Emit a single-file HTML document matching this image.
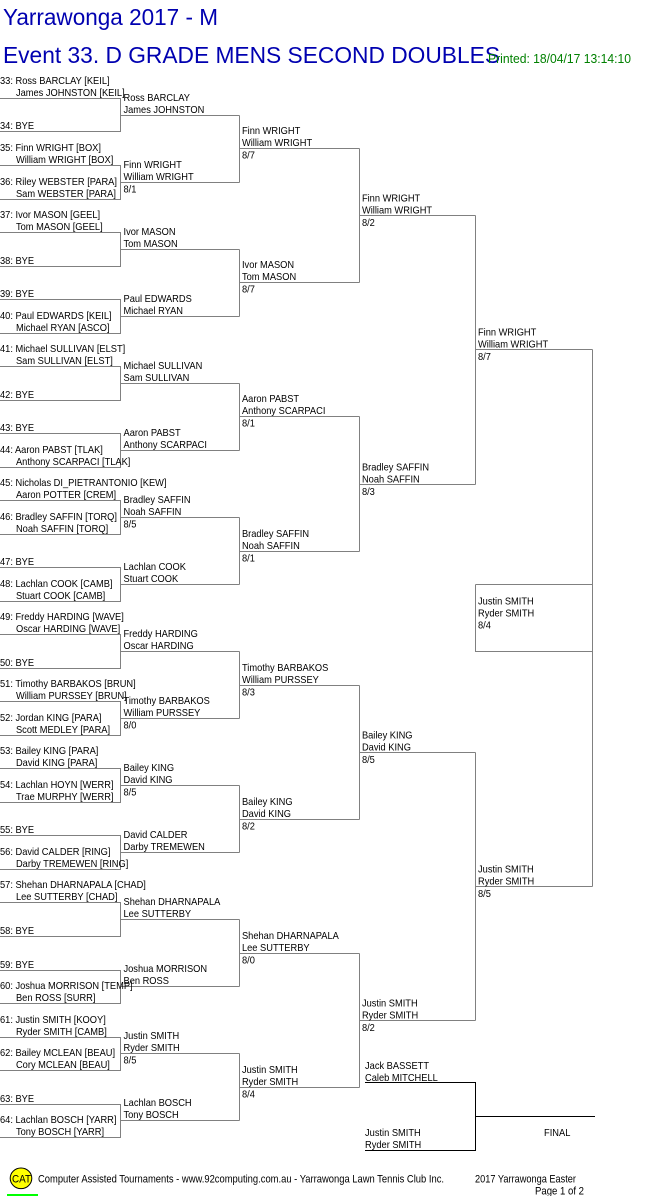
<!DOCTYPE html>
<html><head><meta charset="utf-8"><style>
html,body{margin:0;padding:0;background:#fff;}
svg{display:block;}
text{font-family:"Liberation Sans",Arial,sans-serif;}
</style></head><body>
<svg width="661" height="1196" viewBox="0 0 661 1196" xmlns="http://www.w3.org/2000/svg">
<rect width="661" height="1196" fill="#fff"/>
<text x="3" y="25" font-size="23" fill="#0000b0" textLength="215" lengthAdjust="spacingAndGlyphs">Yarrawonga 2017 - M</text>
<text x="3" y="63" font-size="23" fill="#0000b0" textLength="497" lengthAdjust="spacingAndGlyphs">Event 33. D GRADE MENS SECOND DOUBLES</text>
<text x="488" y="63" font-size="13" fill="#008000" textLength="143" lengthAdjust="spacingAndGlyphs">Printed: 18/04/17 13:14:10</text>

<g fill="none" stroke="#808080" stroke-width="1">
<path d="M0 98.5H120.5V131.5H0 M120.5 115.5H239.5
M0 165.5H120.5V199.5H0 M120.5 182.5H239.5
M0 232.5H120.5V266.5H0 M120.5 249.5H239.5
M0 299.5H120.5V333.5H0 M120.5 316.5H239.5
M0 366.5H120.5V400.5H0 M120.5 383.5H239.5
M0 433.5H120.5V467.5H0 M120.5 450.5H239.5
M0 500.5H120.5V534.5H0 M120.5 517.5H239.5
M0 567.5H120.5V601.5H0 M120.5 584.5H239.5
M0 634.5H120.5V668.5H0 M120.5 651.5H239.5
M0 701.5H120.5V735.5H0 M120.5 718.5H239.5
M0 768.5H120.5V802.5H0 M120.5 785.5H239.5
M0 835.5H120.5V869.5H0 M120.5 852.5H239.5
M0 902.5H120.5V936.5H0 M120.5 919.5H239.5
M0 970.5H120.5V1003.5H0 M120.5 986.5H239.5
M0 1037.5H120.5V1070.5H0 M120.5 1053.5H239.5
M0 1104.5H120.5V1137.5H0 M120.5 1120.5H239.5
M239.5 115.5V182.5 M239.5 148.5H359.5
M239.5 249.5V316.5 M239.5 282.5H359.5
M239.5 383.5V450.5 M239.5 416.5H359.5
M239.5 517.5V584.5 M239.5 551.5H359.5
M239.5 651.5V718.5 M239.5 685.5H359.5
M239.5 785.5V852.5 M239.5 819.5H359.5
M239.5 919.5V986.5 M239.5 953.5H359.5
M239.5 1053.5V1120.5 M239.5 1087.5H359.5
M359.5 148.5V282.5 M359.5 215.5H475.5
M359.5 416.5V551.5 M359.5 484.5H475.5
M359.5 685.5V819.5 M359.5 752.5H475.5
M359.5 953.5V1087.5 M359.5 1020.5H475.5
M475.5 215.5V484.5 M475.5 349.5H592.5
M475.5 752.5V1020.5 M475.5 886.5H592.5
M592.5 349.5V886.5
M475.5 584.5H592.5 M475.5 584.5V651.5H592.5"/>
</g>
<path d="M365 1082.5H475.5V1150.5H365 M475.5 1116.5H595" fill="none" stroke="#000" stroke-width="1"/>

<g transform="scale(0.93,1)" font-size="10" fill="#000">
<text x="0" y="84">33: Ross BARCLAY [KEIL]</text><text x="17.2" y="96">James JOHNSTON [KEIL]</text>
<text x="0" y="129">34: BYE</text>
<text x="0" y="151">35: Finn WRIGHT [BOX]</text><text x="17.2" y="163">William WRIGHT [BOX]</text>
<text x="0" y="185">36: Riley WEBSTER [PARA]</text><text x="17.2" y="197">Sam WEBSTER [PARA]</text>
<text x="0" y="218">37: Ivor MASON [GEEL]</text><text x="17.2" y="230">Tom MASON [GEEL]</text>
<text x="0" y="264">38: BYE</text>
<text x="0" y="297">39: BYE</text>
<text x="0" y="319">40: Paul EDWARDS [KEIL]</text><text x="17.2" y="331">Michael RYAN [ASCO]</text>
<text x="0" y="352">41: Michael SULLIVAN [ELST]</text><text x="17.2" y="364">Sam SULLIVAN [ELST]</text>
<text x="0" y="398">42: BYE</text>
<text x="0" y="431">43: BYE</text>
<text x="0" y="453">44: Aaron PABST [TLAK]</text><text x="17.2" y="465">Anthony SCARPACI [TLAK]</text>
<text x="0" y="486">45: Nicholas DI_PIETRANTONIO [KEW]</text><text x="17.2" y="498">Aaron POTTER [CREM]</text>
<text x="0" y="520">46: Bradley SAFFIN [TORQ]</text><text x="17.2" y="532">Noah SAFFIN [TORQ]</text>
<text x="0" y="565">47: BYE</text>
<text x="0" y="587">48: Lachlan COOK [CAMB]</text><text x="17.2" y="599">Stuart COOK [CAMB]</text>
<text x="0" y="620">49: Freddy HARDING [WAVE]</text><text x="17.2" y="632">Oscar HARDING [WAVE]</text>
<text x="0" y="666">50: BYE</text>
<text x="0" y="687">51: Timothy BARBAKOS [BRUN]</text><text x="17.2" y="699">William PURSSEY [BRUN]</text>
<text x="0" y="721">52: Jordan KING [PARA]</text><text x="17.2" y="733">Scott MEDLEY [PARA]</text>
<text x="0" y="754">53: Bailey KING [PARA]</text><text x="17.2" y="766">David KING [PARA]</text>
<text x="0" y="788">54: Lachlan HOYN [WERR]</text><text x="17.2" y="800">Trae MURPHY [WERR]</text>
<text x="0" y="833">55: BYE</text>
<text x="0" y="855">56: David CALDER [RING]</text><text x="17.2" y="867">Darby TREMEWEN [RING]</text>
<text x="0" y="888">57: Shehan DHARNAPALA [CHAD]</text><text x="17.2" y="900">Lee SUTTERBY [CHAD]</text>
<text x="0" y="934">58: BYE</text>
<text x="0" y="968">59: BYE</text>
<text x="0" y="989">60: Joshua MORRISON [TEMP]</text><text x="17.2" y="1001">Ben ROSS [SURR]</text>
<text x="0" y="1023">61: Justin SMITH [KOOY]</text><text x="17.2" y="1035">Ryder SMITH [CAMB]</text>
<text x="0" y="1056">62: Bailey MCLEAN [BEAU]</text><text x="17.2" y="1068">Cory MCLEAN [BEAU]</text>
<text x="0" y="1102">63: BYE</text>
<text x="0" y="1123">64: Lachlan BOSCH [YARR]</text><text x="17.2" y="1135">Tony BOSCH [YARR]</text>

<text x="132.8" y="101">Ross BARCLAY</text><text x="132.8" y="113">James JOHNSTON</text>
<text x="132.8" y="168">Finn WRIGHT</text><text x="132.8" y="180">William WRIGHT</text><text x="132.8" y="192.5">8/1</text>
<text x="132.8" y="235">Ivor MASON</text><text x="132.8" y="247">Tom MASON</text>
<text x="132.8" y="302">Paul EDWARDS</text><text x="132.8" y="314">Michael RYAN</text>
<text x="132.8" y="369">Michael SULLIVAN</text><text x="132.8" y="381">Sam SULLIVAN</text>
<text x="132.8" y="436">Aaron PABST</text><text x="132.8" y="448">Anthony SCARPACI</text>
<text x="132.8" y="503">Bradley SAFFIN</text><text x="132.8" y="515">Noah SAFFIN</text><text x="132.8" y="527.5">8/5</text>
<text x="132.8" y="570">Lachlan COOK</text><text x="132.8" y="582">Stuart COOK</text>
<text x="132.8" y="637">Freddy HARDING</text><text x="132.8" y="649">Oscar HARDING</text>
<text x="132.8" y="704">Timothy BARBAKOS</text><text x="132.8" y="716">William PURSSEY</text><text x="132.8" y="728.5">8/0</text>
<text x="132.8" y="771">Bailey KING</text><text x="132.8" y="783">David KING</text><text x="132.8" y="795.5">8/5</text>
<text x="132.8" y="838">David CALDER</text><text x="132.8" y="850">Darby TREMEWEN</text>
<text x="132.8" y="905">Shehan DHARNAPALA</text><text x="132.8" y="917">Lee SUTTERBY</text>
<text x="132.8" y="972">Joshua MORRISON</text><text x="132.8" y="984">Ben ROSS</text>
<text x="132.8" y="1039">Justin SMITH</text><text x="132.8" y="1051">Ryder SMITH</text><text x="132.8" y="1063.5">8/5</text>
<text x="132.8" y="1106">Lachlan BOSCH</text><text x="132.8" y="1118">Tony BOSCH</text>

<text x="260.2" y="134">Finn WRIGHT</text><text x="260.2" y="146">William WRIGHT</text><text x="260.2" y="158.5">8/7</text>
<text x="260.2" y="268">Ivor MASON</text><text x="260.2" y="280">Tom MASON</text><text x="260.2" y="292.5">8/7</text>
<text x="260.2" y="402">Aaron PABST</text><text x="260.2" y="414">Anthony SCARPACI</text><text x="260.2" y="426.5">8/1</text>
<text x="260.2" y="537">Bradley SAFFIN</text><text x="260.2" y="549">Noah SAFFIN</text><text x="260.2" y="561.5">8/1</text>
<text x="260.2" y="671">Timothy BARBAKOS</text><text x="260.2" y="683">William PURSSEY</text><text x="260.2" y="695.5">8/3</text>
<text x="260.2" y="805">Bailey KING</text><text x="260.2" y="817">David KING</text><text x="260.2" y="829.5">8/2</text>
<text x="260.2" y="939">Shehan DHARNAPALA</text><text x="260.2" y="951">Lee SUTTERBY</text><text x="260.2" y="963.5">8/0</text>
<text x="260.2" y="1073">Justin SMITH</text><text x="260.2" y="1085">Ryder SMITH</text><text x="260.2" y="1097.5">8/4</text>

<text x="389.2" y="201.5">Finn WRIGHT</text><text x="389.2" y="213.5">William WRIGHT</text><text x="389.2" y="226">8/2</text>
<text x="389.2" y="470.5">Bradley SAFFIN</text><text x="389.2" y="482.5">Noah SAFFIN</text><text x="389.2" y="495">8/3</text>
<text x="389.2" y="738.5">Bailey KING</text><text x="389.2" y="750.5">David KING</text><text x="389.2" y="763">8/5</text>
<text x="389.2" y="1006.5">Justin SMITH</text><text x="389.2" y="1018.5">Ryder SMITH</text><text x="389.2" y="1031">8/2</text>

<text x="514" y="335.5">Finn WRIGHT</text><text x="514" y="347.5">William WRIGHT</text><text x="514" y="360">8/7</text>
<text x="514" y="872.5">Justin SMITH</text><text x="514" y="884.5">Ryder SMITH</text><text x="514" y="897">8/5</text>
<text x="514" y="604.5">Justin SMITH</text><text x="514" y="616.5">Ryder SMITH</text><text x="514" y="628.5">8/4</text>

<text x="392.5" y="1069">Jack BASSETT</text><text x="392.5" y="1081">Caleb MITCHELL</text>
<text x="392.5" y="1136">Justin SMITH</text><text x="392.5" y="1148">Ryder SMITH</text>
<text x="585" y="1136">FINAL</text>
</g>

<ellipse cx="21" cy="1178.3" rx="10.8" ry="10.3" fill="#ffff00" stroke="#000" stroke-width="1"/>
<text x="12" y="1182.5" font-size="11" fill="#000" textLength="19" lengthAdjust="spacingAndGlyphs">CAT</text>
<rect x="7" y="1194" width="31" height="2" fill="#00ff00"/>
<text x="38" y="1182.5" font-size="11" fill="#000" textLength="406" lengthAdjust="spacingAndGlyphs">Computer Assisted Tournaments - www.92computing.com.au -  Yarrawonga Lawn Tennis Club Inc.</text>
<text x="475" y="1182.5" font-size="11" fill="#000" textLength="101" lengthAdjust="spacingAndGlyphs">2017 Yarrawonga Easter</text>
<text x="535" y="1194.5" font-size="11" fill="#000" textLength="49" lengthAdjust="spacingAndGlyphs">Page 1 of 2</text>
</svg>
</body></html>
